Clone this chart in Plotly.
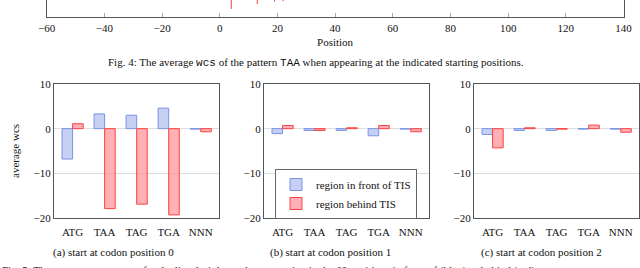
import plotly.graph_objects as go

# ---------------- data ----------------
triplets = ["ATG", "TAA", "TAG", "TGA", "NNN"]
front_pos0 = [-6.8, 3.3, 3.0, 4.6, -0.1]
behind_pos0 = [1.1, -17.9, -16.9, -19.3, -0.7]
front_pos1 = [-1.1, -0.4, -0.4, -1.6, -0.1]
behind_pos1 = [0.7, -0.4, 0.2, 0.7, -0.7]
front_pos2 = [-1.3, -0.4, -0.4, -0.1, -0.1]
behind_pos2 = [-4.3, 0.2, -0.1, 0.8, -0.8]

# Fig. 4 (only its lower edge is visible): positions where the curve dips into view
fig4_dip_positions = [4, 13, 19, 22]
fig4_dip_values = [-17.1, -15.4, -14.5, -14.4]
fig4_top_value = 0

subcaptions = ["(a) start at codon position 0",
               "(b) start at codon position 1",
               "(c) start at codon position 2"]

W, H = 640, 268
SERIF = "Liberation Serif, Times New Roman, serif"
MONO = "Liberation Mono"
FS = 11
AX = "#555555"
GRID = "#dcdcdc"
BLUE_FILL = "rgba(150,170,235,0.55)"
BLUE_LINE = "#7b93e3"
RED_FILL = "rgba(255,150,158,0.75)"
RED_LINE = "#ff4040"


def px(x):
    return x / W


def py(y):
    return 1 - y / H


fig = go.Figure()

# ---- Fig. 4 fragment ----
xs, ys = [], []
for p, v in zip(fig4_dip_positions, fig4_dip_values):
    xs += [p, p, None]
    ys += [fig4_top_value, v, None]
fig.add_trace(go.Scatter(x=xs, y=ys, mode="lines", line=dict(color=RED_LINE, width=1),
                         showlegend=False, hoverinfo="skip", xaxis="x", yaxis="y"))

# ---- Fig. 5 subplots ----
series = [(front_pos0, behind_pos0), (front_pos1, behind_pos1), (front_pos2, behind_pos2)]
for i, (fr, bh) in enumerate(series):
    xa = "x%d" % (i + 2)
    ya = "y%d" % (i + 2)
    fig.add_trace(go.Bar(x=triplets, y=fr, name="region in front of TIS",
                         marker=dict(color=BLUE_FILL, line=dict(color=BLUE_LINE, width=1)),
                         showlegend=(i == 0), legendgroup="front", offsetgroup="front",
                         xaxis=xa, yaxis=ya))
    fig.add_trace(go.Bar(x=triplets, y=bh, name="region behind TIS",
                         marker=dict(color=RED_FILL, line=dict(color=RED_LINE, width=1)),
                         showlegend=(i == 0), legendgroup="behind", offsetgroup="behind",
                         xaxis=xa, yaxis=ya))

font = dict(family=SERIF, size=FS, color="#111111")

layout = dict(
    width=W, height=H, margin=dict(l=0, r=0, t=0, b=0, pad=0, autoexpand=False),
    paper_bgcolor="white", plot_bgcolor="white",
    font=font, barmode="group", bargap=0.34, bargroupgap=0,
    xaxis=dict(domain=[px(46.7), px(623.5)], range=[-60, 140], tickvals=list(range(-60, 141, 20)),
               showline=True, linecolor=AX, linewidth=1, mirror=False,
               ticks="inside", ticklen=4, tickcolor="#aaaaaa", showgrid=False, zeroline=False,
               tickfont=font, anchor="y", automargin=False,
               title=dict(text="Position", font=font, standoff=5)),
    yaxis=dict(domain=[py(17.3), 1], range=[-20, -14], showline=True, linecolor=AX, linewidth=1,
               mirror=True, showticklabels=False, ticks="", showgrid=False, zeroline=False,
               anchor="x", automargin=False),
    legend=dict(x=px(275), y=py(194), xanchor="left", yanchor="middle",
                bordercolor="#666666", borderwidth=1, bgcolor="white",
                font=font, tracegroupgap=0, itemwidth=30),
)

doms = [(54, 219), (264, 429), (474, 639)]
for i, (a, b) in enumerate(doms):
    n = i + 2
    layout["xaxis%d" % n] = dict(domain=[px(a), px(b)], range=[-0.58, 4.57], type="category",
                                 showline=True, linecolor=AX, linewidth=1, mirror=True,
                                 ticks="", showgrid=False, zeroline=False, tickfont=font,
                                 ticklabelstandoff=4,
                                 anchor="y%d" % n, automargin=False)
    layout["yaxis%d" % n] = dict(domain=[py(218), py(84)], range=[-20, 10],
                                 tickvals=[-20, -10, 0, 10], showline=True, linecolor=AX,
                                 linewidth=1, mirror=True, ticks="", showgrid=True,
                                 gridcolor=GRID, gridwidth=1, zeroline=True, zerolinecolor=GRID,
                                 zerolinewidth=1, tickfont=font, anchor="x%d" % n,
                                 automargin=False)

fig.update_layout(**layout)

ann = []
ann.append(dict(text='Fig. 4: The average <span style="font-family:%s">wcs</span> of the pattern '
                     '<span style="font-family:%s">TAA</span> when appearing at the indicated '
                     'starting positions.' % (MONO, MONO),
                x=px(316), y=py(62), xref="paper", yref="paper", showarrow=False,
                xanchor="center", yanchor="middle", font=font))
ann.append(dict(text='average wcs', x=px(15), y=py(151), xref="paper", yref="paper",
                showarrow=False, textangle=-90, xanchor="center", yanchor="middle", font=font))
for cap, cx in zip(subcaptions, [113.5, 330, 541.7]):
    ann.append(dict(text=cap, x=px(cx), y=py(252), xref="paper", yref="paper",
                    showarrow=False, xanchor="center", yanchor="middle", font=font))
ann.append(dict(text='Fig. 5: The average <span style="font-family:%s">wcs</span> scores for the '
                     'listed triplets, when occurring in the 60 positions in front of (blue) or '
                     'behind (red)' % MONO,
                x=px(0), y=py(270.5), xref="paper", yref="paper", showarrow=False,
                xanchor="left", yanchor="middle", font=font))
fig.update_layout(annotations=ann)

fig.write_html("out.html", config={"displayModeBar": False},
               post_script="document.body.style.margin='0';document.body.style.overflow='hidden';")
